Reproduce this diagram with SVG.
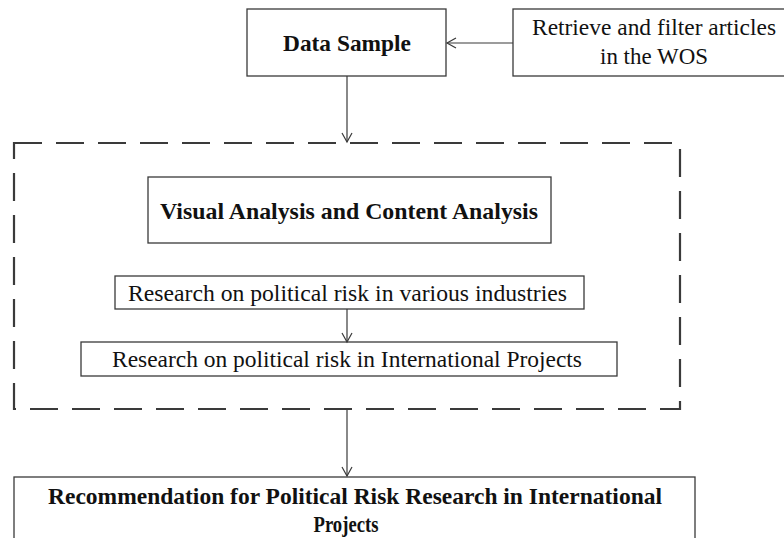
<svg xmlns="http://www.w3.org/2000/svg" width="784" height="538" viewBox="0 0 784 538">
<style>
.box{fill:#fff;stroke:#3a3a3a;stroke-width:1.3}
.t{font-family:"Liberation Serif","Times New Roman",serif;font-size:23px;fill:#111;text-anchor:middle}
.b{font-weight:bold}
.c{fill:none;stroke:#3a3a3a;stroke-width:1.2}
.dash{fill:none;stroke:#3a3a3a;stroke-width:2.2;stroke-dasharray:28 14}
</style>
<defs>
<marker id="ah" markerWidth="12" markerHeight="12" refX="10" refY="6" orient="auto" markerUnits="userSpaceOnUse">
<path d="M1,1 L10,6 L1,11" fill="none" stroke="#3a3a3a" stroke-width="1.2"/>
</marker>
</defs>
<rect width="784" height="538" fill="#fff"/>
<g id="dashed-frame">
<rect class="dash" x="14" y="143" width="666" height="266"/>
</g>
<g id="data-sample">
<rect class="box" x="247" y="9" width="199" height="67"/>
<text class="t b" x="347" y="51" textLength="128" lengthAdjust="spacingAndGlyphs">Data Sample</text>
</g>
<g id="retrieve">
<rect class="box" x="513" y="9" width="280" height="67"/>
<text class="t" x="654" y="35" textLength="244" lengthAdjust="spacingAndGlyphs">Retrieve and filter articles</text>
<text class="t" x="654" y="64" textLength="108" lengthAdjust="spacingAndGlyphs">in the WOS</text>
</g>
<g id="visual-analysis">
<rect class="box" x="148" y="177" width="403" height="66"/>
<text class="t b" x="349" y="219" textLength="378" lengthAdjust="spacingAndGlyphs">Visual Analysis and Content Analysis</text>
</g>
<g id="industries">
<rect class="box" x="115" y="276" width="469" height="33"/>
<text class="t" x="347.5" y="301" textLength="439" lengthAdjust="spacingAndGlyphs">Research on political risk in various industries</text>
</g>
<g id="international">
<rect class="box" x="81" y="342" width="536" height="34"/>
<text class="t" x="347" y="367" textLength="470" lengthAdjust="spacingAndGlyphs">Research on political risk in International Projects</text>
</g>
<g id="recommendation">
<rect class="box" x="14" y="477" width="681" height="80"/>
<text class="t b" x="355" y="504" textLength="614" lengthAdjust="spacingAndGlyphs">Recommendation for Political Risk Research in International</text>
<text class="t b" x="346" y="532" textLength="65" lengthAdjust="spacingAndGlyphs">Projects</text>
</g>
<g id="connectors">
<line class="c" x1="513" y1="43" x2="447" y2="43" marker-end="url(#ah)"/>
<line class="c" x1="347" y1="76" x2="347" y2="142" marker-end="url(#ah)"/>
<line class="c" x1="347" y1="309" x2="347" y2="342" marker-end="url(#ah)"/>
<line class="c" x1="347" y1="410" x2="347" y2="476" marker-end="url(#ah)"/>
</g>
</svg>
